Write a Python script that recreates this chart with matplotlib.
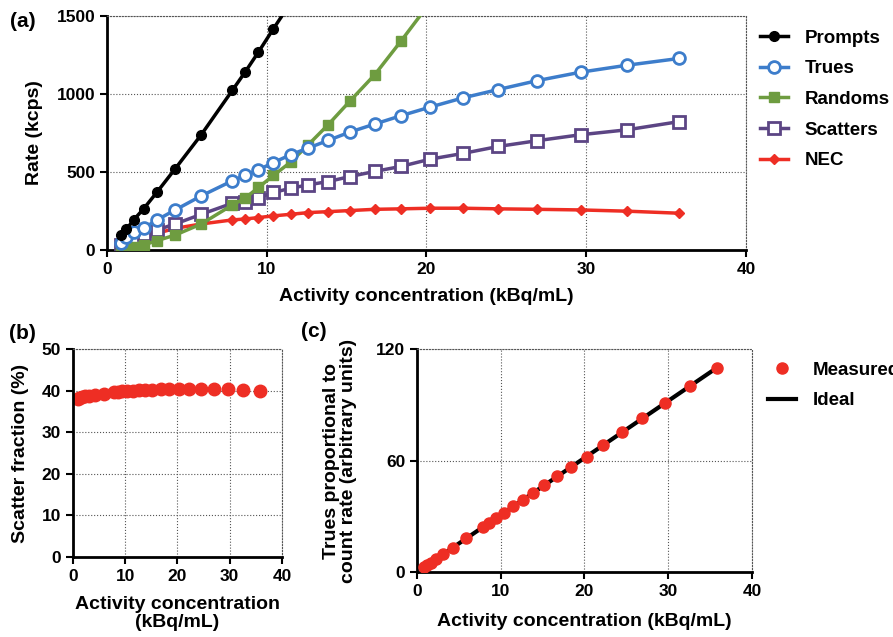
import numpy as np
import matplotlib
matplotlib.use('Agg')
import matplotlib.pyplot as plt

plt.rcParams['font.family'] = ['Liberation Sans', 'DejaVu Sans']
plt.rcParams['font.weight'] = 'bold'
plt.rcParams['axes.labelweight'] = 'bold'
plt.rcParams['font.size'] = 12

# activity concentration (kBq/mL)
conc = [0.87, 1.21, 1.67, 2.29, 3.13, 4.27, 5.9, 7.85, 8.64, 9.48, 10.42, 11.5,
        12.6, 13.85, 15.2, 16.77, 18.4, 20.25, 22.27, 24.49, 26.93, 29.64, 32.57, 35.8]

# count rates (kcps)
prompts = [96, 133, 193, 264, 371, 521, 739, 1024, 1140, 1269, 1419, 1585]
trues = [47, 86, 114, 139, 193, 257, 347, 444, 478, 514, 561, 611,
         654, 703, 756, 808, 861, 917, 975, 1029, 1086, 1140, 1185, 1228]
randoms = [4, 11, 21, 32, 60, 96, 167, 289, 332, 401, 478, 564,
           675, 804, 954, 1125, 1339, 1590]
scatters = [32, 54, 75, 101, 129, 167, 229, 300, 311, 336, 369, 396,
            418, 439, 471, 504, 536, 583, 619, 664, 701, 739, 771, 823]
nec = [26, 43, 64, 81, 107, 139, 167, 193, 199, 208, 219, 229,
       240, 246, 253, 261, 264, 268, 268, 264, 261, 257, 249, 236]

# scatter fraction (%)
sf = [38.0, 38.2, 38.4, 38.6, 38.8, 39.0, 39.3, 39.6, 39.7, 39.8, 39.9, 40.0,
      40.1, 40.2, 40.2, 40.3, 40.4, 40.4, 40.5, 40.5, 40.4, 40.3, 40.2, 40.0]

# trues proportional to count rate (arbitrary units)
measured = [2.7, 3.7, 5.1, 7.0, 9.6, 13.1, 18.1, 24.1, 26.5, 29.1, 32.0, 35.3,
            38.7, 42.5, 46.7, 51.5, 56.5, 62.1, 68.4, 75.2, 82.7, 91.0, 100.0, 109.9]
ideal_x = [0.87, 35.8]
ideal_y = [2.7, 109.9]

c_blue = '#3d7dcb'
c_green = '#6e9c40'
c_purple = '#5c4584'
c_red = '#ee2e24'

LAB = 14


def style(ax):
    for s in ['left', 'bottom']:
        ax.spines[s].set_linewidth(2)
    for s in ['top', 'right']:
        ax.spines[s].set_linestyle(':')
        ax.spines[s].set_linewidth(0.8)
        ax.spines[s].set_color('#555555')
    ax.grid(True, linestyle=':', linewidth=0.8, color='#555555')
    ax.set_axisbelow(True)
    ax.tick_params(direction='out', length=5, width=1.5, labelsize=12.5)
    for lab in ax.get_xticklabels() + ax.get_yticklabels():
        lab.set_fontweight('bold')


fig = plt.figure(figsize=(8.93, 6.37), dpi=100)

# (a)
ax1 = fig.add_axes([0.1198, 0.6075, 0.7156, 0.3673])
ax1.plot(conc, nec, '-D', color=c_red, lw=2.5, ms=5, label='NEC', zorder=2)
ax1.plot(conc, scatters, '-s', color=c_purple, lw=2.5, ms=8, mfc='white', mew=2,
         label='Scatters', zorder=3)
ax1.plot(conc[:len(randoms)], randoms, '-s', color=c_green, lw=2.5, ms=7.5,
         label='Randoms', zorder=4)
ax1.plot(conc, trues, '-o', color=c_blue, lw=2.5, ms=8.5, mfc='white', mew=2,
         label='Trues', zorder=5)
ax1.plot(conc[:len(prompts)], prompts, '-o', color='black', lw=2.5, ms=7,
         label='Prompts', zorder=6)
ax1.set_xlim(0, 40)
ax1.set_ylim(0, 1500)
ax1.set_xticks([0, 10, 20, 30, 40])
ax1.set_yticks([0, 500, 1000, 1500])
ax1.set_xlabel('Activity concentration (kBq/mL)', fontsize=LAB, labelpad=8)
ax1.set_ylabel('Rate (kcps)', fontsize=LAB, labelpad=10)
style(ax1)
h, l = ax1.get_legend_handles_labels()
ax1.legend(h[::-1], l[::-1], loc='upper left', bbox_to_anchor=(1.01, 0.974),
           frameon=False, fontsize=13.5, handlelength=1.5, labelspacing=0.72,
           borderaxespad=0, handletextpad=0.9)

# (b)
ax2 = fig.add_axes([0.0817, 0.1256, 0.234, 0.3265])
ax2.plot(conc, sf, 'o', color=c_red, ms=9)
ax2.set_xlim(0, 40)
ax2.set_ylim(0, 50)
ax2.set_xticks([0, 10, 20, 30, 40])
ax2.set_yticks([0, 10, 20, 30, 40, 50])
ax2.set_xlabel('Activity concentration\n(kBq/mL)', fontsize=LAB, labelpad=9,
               linespacing=1.05)
ax2.set_ylabel('Scatter fraction (%)', fontsize=LAB, labelpad=9)
style(ax2)

# (c)
ax3 = fig.add_axes([0.467, 0.102, 0.375, 0.350])
ax3.plot(ideal_x, ideal_y, '-', color='black', lw=3, label='Ideal', zorder=2)
ax3.plot(conc, measured, 'o', color=c_red, ms=8, label='Measured', zorder=3)
ax3.set_xlim(0, 40)
ax3.set_ylim(0, 120)
ax3.set_xticks([0, 10, 20, 30, 40])
ax3.set_yticks([0, 60, 120])
ax3.set_xlabel('Activity concentration (kBq/mL)', fontsize=LAB, labelpad=10)
ax3.set_ylabel('Trues proportional to\ncount rate (arbitrary units)',
               fontsize=LAB, labelpad=14, linespacing=0.95)
style(ax3)
h, l = ax3.get_legend_handles_labels()
ax3.legend(h[::-1], l[::-1], loc='upper left', bbox_to_anchor=(1.025, 0.978),
           frameon=False, fontsize=13.5, handlelength=1.5, labelspacing=0.72,
           borderaxespad=0, handletextpad=0.9)

fig.text(0.011, 0.967, '(a)', fontsize=15, fontweight='bold', va='center')
fig.text(0.010, 0.477, '(b)', fontsize=15, fontweight='bold', va='center')
fig.text(0.337, 0.479, '(c)', fontsize=15, fontweight='bold', va='center')

fig.savefig('out.png', dpi=100)
